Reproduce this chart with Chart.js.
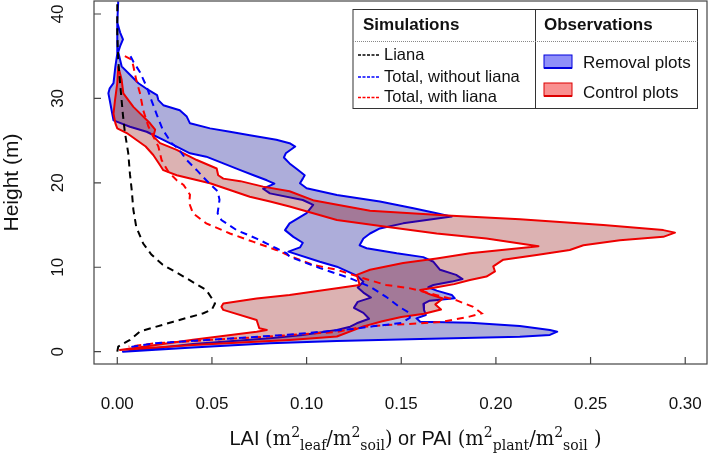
<!DOCTYPE html>
<html>
<head>
<meta charset="utf-8">
<script src="https://cdn.jsdelivr.net/npm/chart.js@4.4.0/dist/chart.umd.min.js"></script>
<style>
  html, body { margin: 0; padding: 0; background: #fff; }
  #wrap { position: relative; width: 709px; height: 456px; }
</style>
</head>
<body>
<div id="wrap"><canvas id="chart" width="709" height="456"></canvas></div>
<script>
// Eixos
const xTicks = [0, 0.05, 0.10, 0.15, 0.20, 0.25, 0.30];
const yTicks = [0, 10, 20, 30, 40];

// Simulações (linhas tracejadas), altura em m e LAI/PAI
const lianaHeight = [0, 0.6, 1.4, 2.4, 3.55, 4.55, 5.0, 5.7, 6.3, 7.3, 8.9, 10.3, 11.5, 12.8, 14.8, 16.8, 19.2, 21.0, 23.5, 26.0, 28.0, 32.0, 34.5, 37.7, 41.5];
const lianaLai = [0, 0.0005, 0.0067, 0.012, 0.0296, 0.0455, 0.050, 0.0516, 0.050, 0.047, 0.035, 0.024, 0.018, 0.0137, 0.010, 0.0085, 0.0076, 0.0067, 0.0058, 0.004, 0.003, 0.0014, 0.0005, 0, 0];

const noLianaHeight = [35.0, 34.35, 33.1, 31.4, 29.8, 28.0, 26.3, 24.7, 24.1, 22.7, 21.5, 20.3, 19.0, 18.0, 16.4, 15.6, 14.4, 13.4, 12.25, 11.65, 11.25, 9.9, 8.7, 7.7, 6.5, 5.3, 4.55, 4.0, 3.4, 3.0, 2.7, 2.4, 2.0, 1.5, 1.0, 0.6, 0.3];
const noLianaLai = [0.007, 0.0085, 0.012, 0.0155, 0.018, 0.021, 0.024, 0.0287, 0.032, 0.0367, 0.042, 0.047, 0.053, 0.054, 0.053, 0.055, 0.063, 0.0736, 0.084, 0.0895, 0.091, 0.107, 0.123, 0.1335, 0.142, 0.149, 0.1547, 0.1545, 0.150, 0.135, 0.125, 0.110, 0.090, 0.055, 0.020, 0.008, 0.005];

const withLianaHeight = [35.0, 34.6, 33.8, 32.2, 30.6, 28.6, 26.7, 25.5, 24.3, 22.7, 21.3, 20.3, 19.75, 18.6, 17.6, 16.4, 15.2, 14.0, 13.0, 12.05, 11.45, 10.27, 9.7, 8.7, 7.9, 7.5, 6.7, 6.1, 5.3, 4.55, 4.15, 3.55, 3.35, 3.15, 2.95, 2.35, 2.2, 1.8, 1.4, 1.0, 0.6];
const withLianaLai = [0.004, 0.0076, 0.0085, 0.010, 0.012, 0.0137, 0.0164, 0.019, 0.0217, 0.0234, 0.027, 0.0314, 0.035, 0.0384, 0.038, 0.040, 0.047, 0.0595, 0.072, 0.084, 0.090, 0.1035, 0.116, 0.130, 0.142, 0.1547, 0.1687, 0.179, 0.188, 0.1925, 0.186, 0.172, 0.160, 0.142, 0.130, 0.116, 0.107, 0.080, 0.050, 0.020, 0.006];

// Observações: faixa = perfil máximo (de cima para baixo) + perfil mínimo (de baixo para cima)
const removalMaxHeight = [41.5, 39.0, 37.8, 37.0, 36.2, 35.5, 33.8, 32.8, 31.8, 31.0, 30.4, 29.8, 29.2, 28.6, 27.85, 27.05, 26.45, 26.05, 25.65, 25.1, 24.7, 24.3, 23.5, 23.0, 22.3, 21.6, 20.9, 20.5, 19.95, 19.35, 18.55, 17.8, 17.0, 16.4, 16.0, 15.2, 14.6, 14.0, 13.4, 12.6, 12.25, 11.65, 11.2, 10.65, 9.7, 9.1, 8.6, 8.3, 7.9, 7.63, 7.23, 6.72, 6.32, 6.04, 5.65, 4.94, 4.35, 3.95, 3.55, 3.43, 3.05, 2.57, 2.37, 1.98, 1.78, 1.5, 1.25, 1.0, 0.5, 0];
const removalMaxLai = [0.0005, 0, 0.0015, 0.003, 0.0015, 0.0005, 0.0023, 0.0067, 0.0112, 0.0164, 0.021, 0.0217, 0.0243, 0.033, 0.0367, 0.0384, 0.049, 0.0595, 0.070, 0.084, 0.091, 0.094, 0.089, 0.088, 0.091, 0.095, 0.099, 0.098, 0.0965, 0.100, 0.116, 0.1387, 0.1564, 0.1687, 0.1767, 0.151, 0.1387, 0.1335, 0.130, 0.128, 0.1317, 0.1476, 0.1616, 0.167, 0.1705, 0.179, 0.1824, 0.1767, 0.167, 0.1643, 0.1687, 0.1767, 0.1783, 0.165, 0.1617, 0.162, 0.163, 0.158, 0.160, 0.1864, 0.2126, 0.2285, 0.2324, 0.2285, 0.2126, 0.160, 0.116, 0.0806, 0.040, 0.003];
const removalMinHeight = [0, 0.9, 1.6, 1.98, 2.57, 2.96, 3.36, 3.9, 4.6, 5.2, 5.9, 6.4, 7.0, 7.6, 8.3, 8.97, 10.07, 10.66, 11.85, 12.35, 12.9, 13.6, 14.4, 15.2, 16.4, 17.4, 17.97, 18.75, 19.3, 19.9, 20.3, 20.9, 21.5, 22.3, 23.1, 23.5, 24.3, 25.1, 26.05, 26.65, 27.4, 28.6, 29.8, 30.6, 31.2, 31.8, 33.8, 35.3, 37.0, 39.0, 41.5];
const removalMinLai = [0.003, 0.040, 0.0806, 0.098, 0.116, 0.123, 0.1265, 0.133, 0.130, 0.125, 0.127, 0.134, 0.130, 0.127, 0.130, 0.1268, 0.116, 0.107, 0.0904, 0.0965, 0.098, 0.093, 0.0886, 0.091, 0.100, 0.1035, 0.098, 0.0806, 0.077, 0.083, 0.079, 0.072, 0.065, 0.056, 0.047, 0.0384, 0.0314, 0.0243, 0.0155, 0.0067, -0.002, -0.003, -0.004, -0.0047, -0.004, -0.002, -0.001, 0, 0, 0, 0.0005];

const controlMaxHeight = [33.8, 32.2, 30.6, 29.0, 27.05, 26.3, 25.5, 24.7, 23.9, 22.7, 21.7, 20.9, 20.5, 20.2, 19.55, 19.0, 17.9, 16.7, 16.1, 15.7, 15.0, 14.4, 14.1, 13.6, 13.2, 12.6, 12.05, 11.45, 10.9, 10.1, 9.5, 8.9, 8.5, 8.0, 7.6, 7.3, 6.8, 6.3, 5.6, 5.0, 4.5, 4.1, 3.6, 3.0, 1.8, 1.39, 0.8, 0.2];
const controlMaxLai = [0.0005, 0.0023, 0.0032, 0.0085, 0.0173, 0.020, 0.019, 0.0226, 0.0314, 0.042, 0.0525, 0.0533, 0.056, 0.065, 0.077, 0.091, 0.104, 0.1335, 0.1767, 0.2127, 0.2567, 0.2884, 0.2946, 0.2884, 0.2655, 0.2462, 0.239, 0.2215, 0.2039, 0.1986, 0.1995, 0.195, 0.1863, 0.178, 0.168, 0.160, 0.165, 0.172, 0.168, 0.171, 0.162, 0.150, 0.140, 0.130, 0.116, 0.091, 0.040, 0.0014];
const controlMinHeight = [0.2, 1.4, 2.37, 2.57, 2.77, 3.75, 4.95, 5.33, 5.7, 6.3, 6.7, 7.9, 9.1, 9.7, 10.5, 11.05, 11.65, 12.5, 13.4, 14.0, 14.8, 15.6, 17.2, 17.8, 18.35, 19.15, 19.95, 20.9, 21.5, 22.3, 23.3, 24.3, 25.1, 25.9, 26.45, 27.05, 28.2, 29.8, 31.8, 33.8];
const controlMinLai = [0.0014, 0.040, 0.0736, 0.079, 0.075, 0.0736, 0.056, 0.055, 0.056, 0.0736, 0.091, 0.128, 0.1265, 0.1335, 0.151, 0.1687, 0.1863, 0.2225, 0.195, 0.1687, 0.142, 0.116, 0.091, 0.0807, 0.070, 0.0595, 0.049, 0.0314, 0.0243, 0.022, 0.019, 0.015, 0.010, 0.005, 0, -0.001, -0.002, -0.0012, 0, 0.0005];

const SANS = '"Liberation Sans", Arial, sans-serif';
const SERIF = '"DejaVu Serif", "Liberation Serif", serif';

function pontos(lai, altura) {
    return lai.map((v, i) => ({ x: v, y: altura[i] }));
}

// Monta o polígono fechado da faixa observada
function faixa(maxLai, maxH, minLai, minH) {
    const p = pontos(maxLai, maxH).concat(pontos(minLai, minH));
    p.push(p[0]);
    return p;
}

function linhaSimulada(label, lai, altura, cor) {
    return {
        label: label, data: pontos(lai, altura), borderColor: cor, borderWidth: 2,
        borderDash: [7, 5], pointRadius: 0, fill: false, tension: 0, order: 0
    };
}

// Moldura, marcas dos eixos (para dentro) e rótulos do eixo y
const moldura = {
    id: 'moldura',
    afterDraw(chart) {
        const { ctx, chartArea: a, scales } = chart;
        ctx.save();
        ctx.strokeStyle = '#444';
        ctx.lineWidth = 1.2;
        ctx.setLineDash([]);
        ctx.strokeRect(a.left, a.top, a.right - a.left, a.bottom - a.top);
        ctx.beginPath();
        xTicks.forEach(v => {
            const px = scales.x.getPixelForValue(v);
            ctx.moveTo(px, a.bottom); ctx.lineTo(px, a.bottom - 7);
        });
        yTicks.forEach(v => {
            const py = scales.y.getPixelForValue(v);
            ctx.moveTo(a.left, py); ctx.lineTo(a.left + 7, py);
        });
        ctx.stroke();
        ctx.fillStyle = '#111';
        ctx.font = '17px ' + SANS;
        ctx.textAlign = 'center';
        ctx.textBaseline = 'middle';
        yTicks.forEach(v => {
            const py = scales.y.getPixelForValue(v);
            ctx.save();
            ctx.translate(58, py);
            ctx.rotate(-Math.PI / 2);
            ctx.fillText(String(v), 0, 0);
            ctx.restore();
        });
        ctx.restore();
    }
};

// Título do eixo x com sobrescritos e subscritos
const tituloX = {
    id: 'tituloX',
    afterDraw(chart) {
        const { ctx, chartArea: a } = chart;
        const partes = [
            ['LAI ', 'sans', 0], ['(m', 'serif', 0], ['2', 'small', -8], ['leaf', 'small', 5],
            ['/m', 'serif', 0], ['2', 'small', -8], ['soil', 'small', 5], [')', 'serif', 0],
            [' or PAI ', 'sans', 0], ['(m', 'serif', 0], ['2', 'small', -8], ['plant', 'small', 5],
            ['/m', 'serif', 0], ['2', 'small', -8], ['soil', 'small', 5], [' )', 'serif', 0]
        ];
        const fontes = { sans: '20px ' + SANS, serif: '19.5px ' + SERIF, small: '14px ' + SERIF };
        ctx.save();
        ctx.fillStyle = '#111';
        ctx.textBaseline = 'alphabetic';
        ctx.textAlign = 'left';
        let total = 0;
        partes.forEach(p => { ctx.font = fontes[p[1]]; total += ctx.measureText(p[0]).width; });
        // o texto do original fica um pouco à direita do centro da área do gráfico
        let x = (a.left + a.right) / 2 + 15 - total / 2;
        const base = 445;
        partes.forEach(p => {
            ctx.font = fontes[p[1]];
            ctx.fillText(p[0], x, base + p[2]);
            x += ctx.measureText(p[0]).width;
        });
        ctx.restore();
    }
};

// Legenda em forma de tabela
const legendaTabela = {
    id: 'legendaTabela',
    afterDraw(chart) {
        const ctx = chart.ctx;
        const L = 353, T = 9.5, R = 697.5, B = 108.5, D = 535.5;
        ctx.save();
        ctx.fillStyle = '#fff';
        ctx.fillRect(L, T, R - L, B - T);
        ctx.strokeStyle = '#333';
        ctx.lineWidth = 1;
        ctx.setLineDash([]);
        ctx.strokeRect(L, T, R - L, B - T);
        ctx.beginPath(); ctx.moveTo(D, T); ctx.lineTo(D, B); ctx.stroke();
        ctx.strokeStyle = '#888';
        ctx.setLineDash([1, 1]);
        ctx.beginPath(); ctx.moveTo(L, 41.5); ctx.lineTo(R, 41.5); ctx.stroke();

        ctx.fillStyle = '#111';
        ctx.textBaseline = 'middle';
        ctx.textAlign = 'left';
        ctx.font = 'bold 17px ' + SANS;
        ctx.fillText('Simulations', 363, 25.5);
        ctx.fillText('Observations', 544, 25.5);

        const sims = [['Liana', '#000000', 55], ['Total, without liana', '#0000ff', 77], ['Total, with liana', '#ff0000', 97.5]];
        ctx.font = '16.5px ' + SANS;
        sims.forEach(s => {
            ctx.strokeStyle = s[1];
            ctx.lineWidth = 1.5;
            ctx.setLineDash([3, 1.5]);
            ctx.beginPath(); ctx.moveTo(358, s[2]); ctx.lineTo(380, s[2]); ctx.stroke();
            ctx.fillStyle = '#111';
            ctx.fillText(s[0], 384, s[2]);
        });

        const obs = [['Removal plots', 'rgba(70,70,245,0.6)', '#0000dd', 55, 63], ['Control plots', 'rgba(245,70,70,0.6)', '#dd0000', 83, 93]];
        ctx.setLineDash([]);
        obs.forEach(o => {
            ctx.fillStyle = o[1];
            ctx.fillRect(544, o[3], 28, 13);
            ctx.strokeStyle = o[2];
            ctx.lineWidth = 1;
            ctx.strokeRect(544, o[3], 28, 13);
            ctx.lineWidth = 2;
            ctx.beginPath(); ctx.moveTo(544, o[3] + 13); ctx.lineTo(572, o[3] + 13); ctx.stroke();
            ctx.fillStyle = '#111';
            ctx.font = '17px ' + SANS;
            ctx.fillText(o[0], 583, o[4]);
        });
        ctx.restore();
    }
};

new Chart(document.getElementById('chart').getContext('2d'), {
    type: 'line',
    data: {
        datasets: [
            linhaSimulada('Liana', lianaLai, lianaHeight, '#000000'),
            linhaSimulada('Total, without liana', noLianaLai, noLianaHeight, '#0000ff'),
            linhaSimulada('Total, with liana', withLianaLai, withLianaHeight, '#ff0000'),
            {
                label: 'Control plots', data: faixa(controlMaxLai, controlMaxHeight, controlMinLai, controlMinHeight),
                borderColor: '#ee0000', backgroundColor: 'rgba(139,0,0,0.3)', borderWidth: 2,
                borderJoinStyle: 'round', pointRadius: 0, fill: 'shape', tension: 0, order: 1
            },
            {
                label: 'Removal plots', data: faixa(removalMaxLai, removalMaxHeight, removalMinLai, removalMinHeight),
                borderColor: '#0000ee', backgroundColor: 'rgba(0,0,139,0.32)', borderWidth: 2,
                borderJoinStyle: 'round', pointRadius: 0, fill: 'shape', tension: 0, order: 2
            }
        ]
    },
    options: {
        responsive: false,
        animation: false,
        devicePixelRatio: 1,
        layout: { padding: { top: 1, right: 2, left: 0, bottom: 0 } },
        plugins: { legend: { display: false }, tooltip: { enabled: false } },
        events: [],
        scales: {
            x: {
                type: 'linear', position: 'bottom', min: -0.0123, max: 0.3115,
                grid: { display: false }, border: { display: false },
                afterBuildTicks: s => { s.ticks = xTicks.map(v => ({ value: v })); },
                afterFit: s => { s.height = 92; s.paddingLeft = 0; s.paddingRight = 0; },
                ticks: { color: '#111', font: { size: 17, family: SANS }, padding: 22, maxRotation: 0, callback: v => v.toFixed(2) }
            },
            y: {
                type: 'linear', min: -1.46, max: 41.54,
                grid: { display: false }, border: { display: false },
                afterBuildTicks: s => { s.ticks = yTicks.map(v => ({ value: v })); },
                afterFit: s => { s.width = 94; s.paddingTop = 0; s.paddingBottom = 0; },
                ticks: { display: false },
                title: { display: true, text: 'Height (m)', color: '#111', font: { size: 21, family: SANS }, padding: { top: 0, bottom: 0 } }
            }
        }
    },
    plugins: [moldura, tituloX, legendaTabela]
});
</script>
</body>
</html>
